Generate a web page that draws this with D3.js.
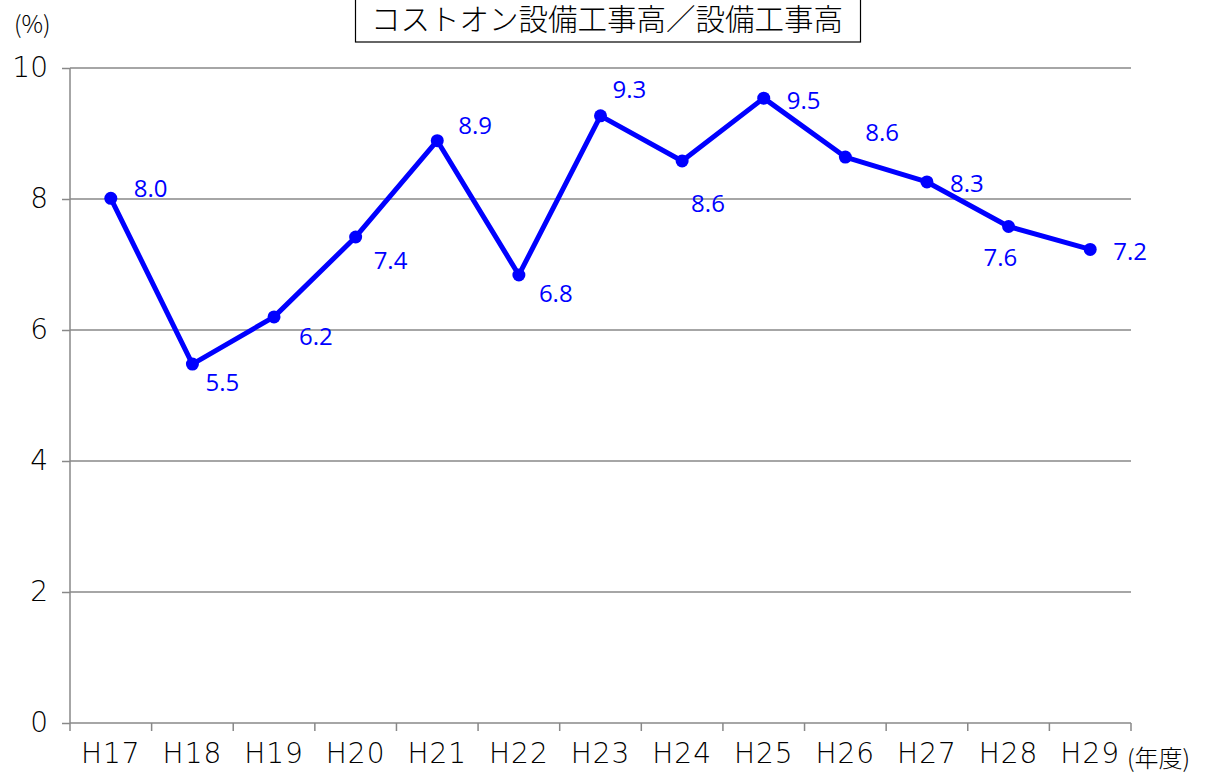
<!DOCTYPE html>
<meta charset="utf-8">
<head>
    <title>コストオン設備工事高</title>
    <script src="https://d3js.org/d3.v7.min.js"></script>
</head>

<style>
body { margin: 0; background: #fff; }
.axis text { font-family: "DejaVu Sans", sans-serif; font-weight: 200; font-size: 28px; fill: #000; }
.axis path, .axis line { stroke: #888; stroke-width: 1.5; }
.grid line { stroke: #888; stroke-width: 1.5; }
.label { font-family: "Open Sans", "Noto Sans", sans-serif; font-size: 24px; fill: #0000ff; }
.cjk { font-family: "Noto Sans CJK JP", sans-serif; font-weight: 300; }
</style>

<body>
<svg></svg>

<script>

// data
let years = ["H17", "H18", "H19", "H20", "H21", "H22", "H23", "H24", "H25", "H26", "H27", "H28", "H29"];
let ratio = [8.01, 5.48, 6.20, 7.42, 8.89, 6.84, 9.27, 8.58, 9.54, 8.64, 8.26, 7.58, 7.23];
let yTicks = [0, 2, 4, 6, 8, 10];

// where each data label sits relative to its point (dx to text start, dy to text centre line)
let labelOffset = [
  [23, -10], [13, 19], [25, 20], [18, 24], [21, -15], [20, 19], [12, -26],
  [9, 43], [23, 2], [20, -24], [23, 2], [-25, 31], [23, 2]
];

let W = 1211, H = 776;
let margin = {top: 68, right: 80, bottom: 53, left: 70};
let width = W - margin.left - margin.right;
let height = H - margin.top - margin.bottom;

let svg = d3.select("svg")
    .attr("width", W)
    .attr("height", H);

let g = svg.append("g")
    .attr("transform", "translate(" + margin.left + "," + margin.top + ")");

let x = d3.scaleBand().domain(years).range([0, width]);
let y = d3.scaleLinear().domain([0, 10]).range([height, 0]);

// gridlines
g.append("g")
  .attr("class", "grid")
  .selectAll("line")
  .data(yTicks.filter(d => d > 0))
  .enter().append("line")
  .attr("x1", 0).attr("x2", width)
  .attr("y1", d => y(d)).attr("y2", d => y(d));

// y axis
let yAxis = g.append("g")
  .attr("class", "axis")
  .call(d3.axisLeft(y).tickValues(yTicks).tickSize(8).tickPadding(14).tickSizeOuter(0));
yAxis.select(".domain").attr("d", "M0," + height + "V0");

// x axis, ticks between categories
let xAxis = g.append("g")
  .attr("class", "axis")
  .attr("transform", "translate(0," + height + ")")
  .call(d3.axisBottom(x).tickSize(0).tickPadding(20).tickSizeOuter(0));
xAxis.select(".domain").attr("d", "M0,0H" + width);
xAxis.selectAll(".tick text").attr("dy", "0.71em").style("letter-spacing", "1px");
xAxis.selectAll(".sep")
  .data(d3.range(years.length + 1))
  .enter().append("line")
  .attr("class", "sep")
  .attr("x1", i => i * x.step()).attr("x2", i => i * x.step())
  .attr("y1", 0).attr("y2", 8)
  .attr("stroke", "#888").attr("stroke-width", 1.5);

// unit labels
svg.append("text")
  .attr("class", "cjk")
  .attr("x", 14).attr("y", 33)
  .style("font-size", "24px")
  .text("(%)");

svg.append("text")
  .attr("class", "cjk")
  .attr("x", 1127).attr("y", 767)
  .style("font-size", "24px")
  .text("(年度)");

// title box
svg.append("rect")
  .attr("x", 355.5).attr("y", -2)
  .attr("width", 505).attr("height", 44)
  .attr("fill", "#fff").attr("stroke", "#000").attr("stroke-width", 1.2);

svg.append("text")
  .attr("class", "cjk")
  .attr("x", 607).attr("y", 30)
  .attr("text-anchor", "middle")
  .style("font-size", "29.5px")
  .text("コストオン設備工事高／設備工事高");

// line
let line = d3.line()
  .x((d, i) => x(years[i]) + x.bandwidth() / 2)
  .y(d => y(d));

g.append("path")
  .datum(ratio)
  .attr("d", line)
  .attr("fill", "none")
  .attr("stroke", "#0000ff")
  .attr("stroke-width", 5)
  .attr("stroke-linejoin", "round");

g.selectAll(".dot")
  .data(ratio)
  .enter().append("circle")
  .attr("class", "dot")
  .attr("cx", (d, i) => x(years[i]) + x.bandwidth() / 2)
  .attr("cy", d => y(d))
  .attr("r", 6.5)
  .attr("fill", "#0000ff");

g.selectAll(".label")
  .data(ratio)
  .enter().append("text")
  .attr("class", "label")
  .attr("x", (d, i) => x(years[i]) + x.bandwidth() / 2 + labelOffset[i][0])
  .attr("y", (d, i) => y(d) + labelOffset[i][1])
  .attr("dy", "0.35em")
  .text(d => d.toFixed(1));

</script>
</body>
